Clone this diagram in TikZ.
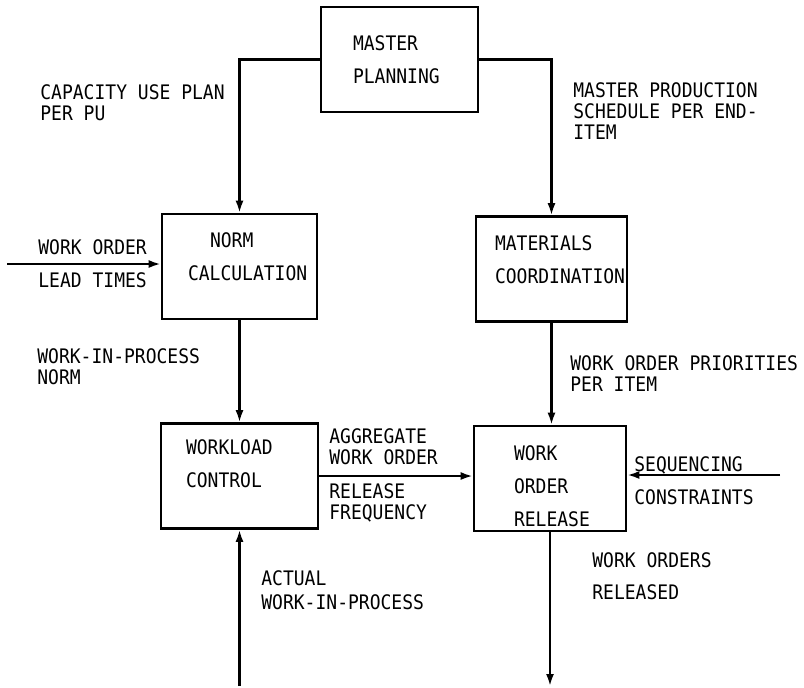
\documentclass[tikz,border=0pt]{standalone}
\usepackage{fontspec}
\newfontfamily\typewfont[FakeStretch=0.9]{DejaVu Sans Mono}
\usepackage{tikz}
\usetikzlibrary{positioning,arrows.meta}
\tikzset{
  flowarrow/.style={-{Latex[length=6pt,width=4pt]}, line width=1.1pt},
  blocknode/.style={draw, line width=1.3pt, align=left, minimum height=52.5pt, text height=0pt, text depth=#1, font=\typewfont\fontsize{10}{16.5}\selectfont},
  lbl/.style={anchor=west, align=left, inner sep=0pt, font=\typewfont\fontsize{10}{10.5}\selectfont}
}
\begin{document}
\begin{tikzpicture}[x=0.5pt, y=-0.5pt]
  \useasboundingbox (0,0) rectangle (804,687);
  % blocks
  \node[blocknode=9.5pt, inner xsep=16pt, text width=46.5pt] (mp) at (399.5,59.5) {MASTER\\PLANNING};
  \node[blocknode=19.5pt, inner xsep=13pt, text width=51.5pt] (norm) at (239.5,266.5) {\hspace*{11pt}NORM\\CALCULATION};
  \node[blocknode=19pt, inner xsep=9.5pt, text width=56.5pt] (mat) at (551.5,269) {MATERIALS\\COORDINATION};
  \node[blocknode=22pt, inner xsep=12.5pt, text width=53.5pt] (wl) at (239.5,476) {WORKLOAD\\CONTROL};
  \node[blocknode=18.5pt, inner xsep=20pt, text width=36pt] (wor) at (550,478.5) {WORK\\ORDER\\RELEASE};

  % free ends
  \coordinate (woin) at (7,264);
  \coordinate (seqin) at (780,475);
  \coordinate (wipin) at (239.5,686);
  \coordinate (woout) at (550,686);

  % flows
  \draw[flowarrow] (mp.west) -| (norm.north);
  \draw[flowarrow] (mp.east) -| (mat.north);
  \draw[flowarrow] (woin) -- (woin -| norm.west);
  \draw[flowarrow] (norm.south) -- (wl.north);
  \draw[flowarrow] (mat.south) -- (mat.south |- wor.north);
  \draw[flowarrow] (wl.east) -- (wl.east -| wor.west);
  \draw[flowarrow] (seqin) -- (seqin -| wor.east);
  \draw[flowarrow] (wipin) -- (wl.south);
  \draw[flowarrow] (wor.south) -- (woout);

  % labels
  \node[lbl] (capuse) at (40,103) {CAPACITY USE PLAN\\PER PU};
  \node[lbl] (mpsched) at (573,111.5) {MASTER PRODUCTION\\SCHEDULE PER END-\\ITEM};
  \node[lbl] (wolead) at (38,263.5) {WORK ORDER\\[6pt]LEAD TIMES};
  \node[lbl] (wipnorm) at (37,367) {WORK-IN-PROCESS\\NORM};
  \node[lbl] (woprio) at (570,374) {WORK ORDER PRIORITIES\\PER ITEM};
  \node[lbl] (aggfreq) at (329,475.5) {AGGREGATE\\WORK ORDER\\[6.75pt]RELEASE\\FREQUENCY};
  \node[lbl] (seqcons) at (634,480.5) {SEQUENCING\\[6pt]CONSTRAINTS};
  \node[lbl] (actwip) at (261,590) {ACTUAL\\[1.5pt]WORK-IN-PROCESS};
  \node[lbl] (wosent) at (592,576) {WORK ORDERS\\[5.5pt]RELEASED};
\end{tikzpicture}
\end{document}
